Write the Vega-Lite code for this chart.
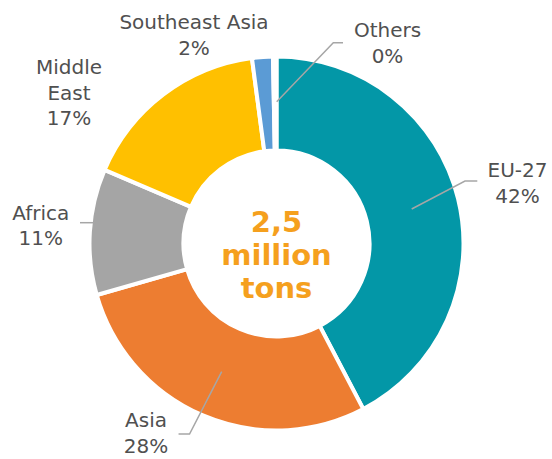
{
  "$schema": "https://vega.github.io/schema/vega-lite/v6.json",
  "width": 552,
  "height": 459,
  "autosize": {"type": "none"},
  "padding": 0,
  "background": "white",
  "config": {"view": {"stroke": null}},
  "datasets": {
    "slices": [
      {"region": "EU-27", "share": 42.4, "ord": 1},
      {"region": "Asia", "share": 28.3, "ord": 2},
      {"region": "Africa", "share": 10.9, "ord": 3},
      {"region": "Middle East", "share": 16.5, "ord": 4},
      {"region": "Southeast Asia", "share": 1.8, "ord": 5},
      {"region": "Others", "share": 0.3, "ord": 6}
    ],
    "labels": [
      {"text": "Southeast Asia\n2%", "u": -0.4459, "v": 1.1578},
      {"text": "Others\n0%", "u": 0.6, "v": 1.1146},
      {"text": "EU-27\n42%", "u": 1.3027, "v": 0.3578},
      {"text": "Middle\nEast\n17%", "u": -1.1216, "v": 0.9146},
      {"text": "Africa\n11%", "u": -1.2741, "v": 0.127},
      {"text": "Asia\n28%", "u": -0.7054, "v": -0.994}
    ],
    "leaders": [
      {"series": "Others", "step": 1, "u": 0.0011, "v": 0.7665},
      {"series": "Others", "step": 2, "u": 0.307, "v": 1.0854},
      {"series": "Others", "step": 3, "u": 0.3595, "v": 1.0854},
      {"series": "EU-27", "step": 1, "u": 0.7308, "v": 0.1865},
      {"series": "EU-27", "step": 2, "u": 1.0189, "v": 0.3378},
      {"series": "EU-27", "step": 3, "u": 1.0854, "v": 0.3378},
      {"series": "Africa", "step": 1, "u": -1.0622, "v": 0.1124},
      {"series": "Africa", "step": 2, "u": -0.9811, "v": 0.1124},
      {"series": "Asia", "step": 1, "u": -0.2962, "v": -0.693},
      {"series": "Asia", "step": 2, "u": -0.47, "v": -1.03},
      {"series": "Asia", "step": 3, "u": -0.5295, "v": -1.03}
    ],
    "center": [
      {"text": "2,5\nmillion\ntons", "u": 0.0, "v": 0.0622}
    ]
  },
  "layer": [
    {
      "data": {"name": "slices"},
      "mark": {"type": "arc", "innerRadius": 93, "outerRadius": 187, "stroke": "white", "strokeWidth": 4},
      "encoding": {
        "x": {"datum": 0, "type": "quantitative", "scale": {"domain": [-1.4946, 1.4892], "nice": false, "zero": false}, "axis": null},
        "y": {"datum": 0, "type": "quantitative", "scale": {"domain": [-1.1649, 1.3162], "nice": false, "zero": false}, "axis": null},
        "theta": {"field": "share", "type": "quantitative", "stack": true},
        "order": {"field": "ord", "type": "quantitative", "sort": "ascending"},
        "color": {
          "field": "region",
          "type": "nominal",
          "legend": null,
          "scale": {
            "domain": ["EU-27", "Asia", "Africa", "Middle East", "Southeast Asia", "Others"],
            "range": ["#0397A7", "#ED7D31", "#A5A5A5", "#FFC000", "#5B9BD5", "#FFFFFF"]
          }
        }
      }
    },
    {
      "data": {"name": "leaders"},
      "mark": {"type": "line", "color": "#A6A6A6", "strokeWidth": 1.5},
      "encoding": {
        "x": {"field": "u", "type": "quantitative"},
        "y": {"field": "v", "type": "quantitative"},
        "detail": {"field": "series"},
        "order": {"field": "step", "type": "quantitative"}
      }
    },
    {
      "data": {"name": "labels"},
      "mark": {"type": "text", "font": "DejaVu Sans", "fontSize": 20, "color": "#505050", "align": "center", "baseline": "alphabetic", "lineBreak": "\n", "lineHeight": 25.4},
      "encoding": {
        "x": {"field": "u", "type": "quantitative"},
        "y": {"field": "v", "type": "quantitative"},
        "text": {"field": "text"}
      }
    },
    {
      "data": {"name": "center"},
      "mark": {"type": "text", "font": "DejaVu Sans", "fontWeight": "bold", "fontSize": 29, "color": "#F5A01E", "align": "center", "baseline": "alphabetic", "lineBreak": "\n", "lineHeight": 33},
      "encoding": {
        "x": {"field": "u", "type": "quantitative"},
        "y": {"field": "v", "type": "quantitative"},
        "text": {"field": "text"}
      }
    }
  ]
}
